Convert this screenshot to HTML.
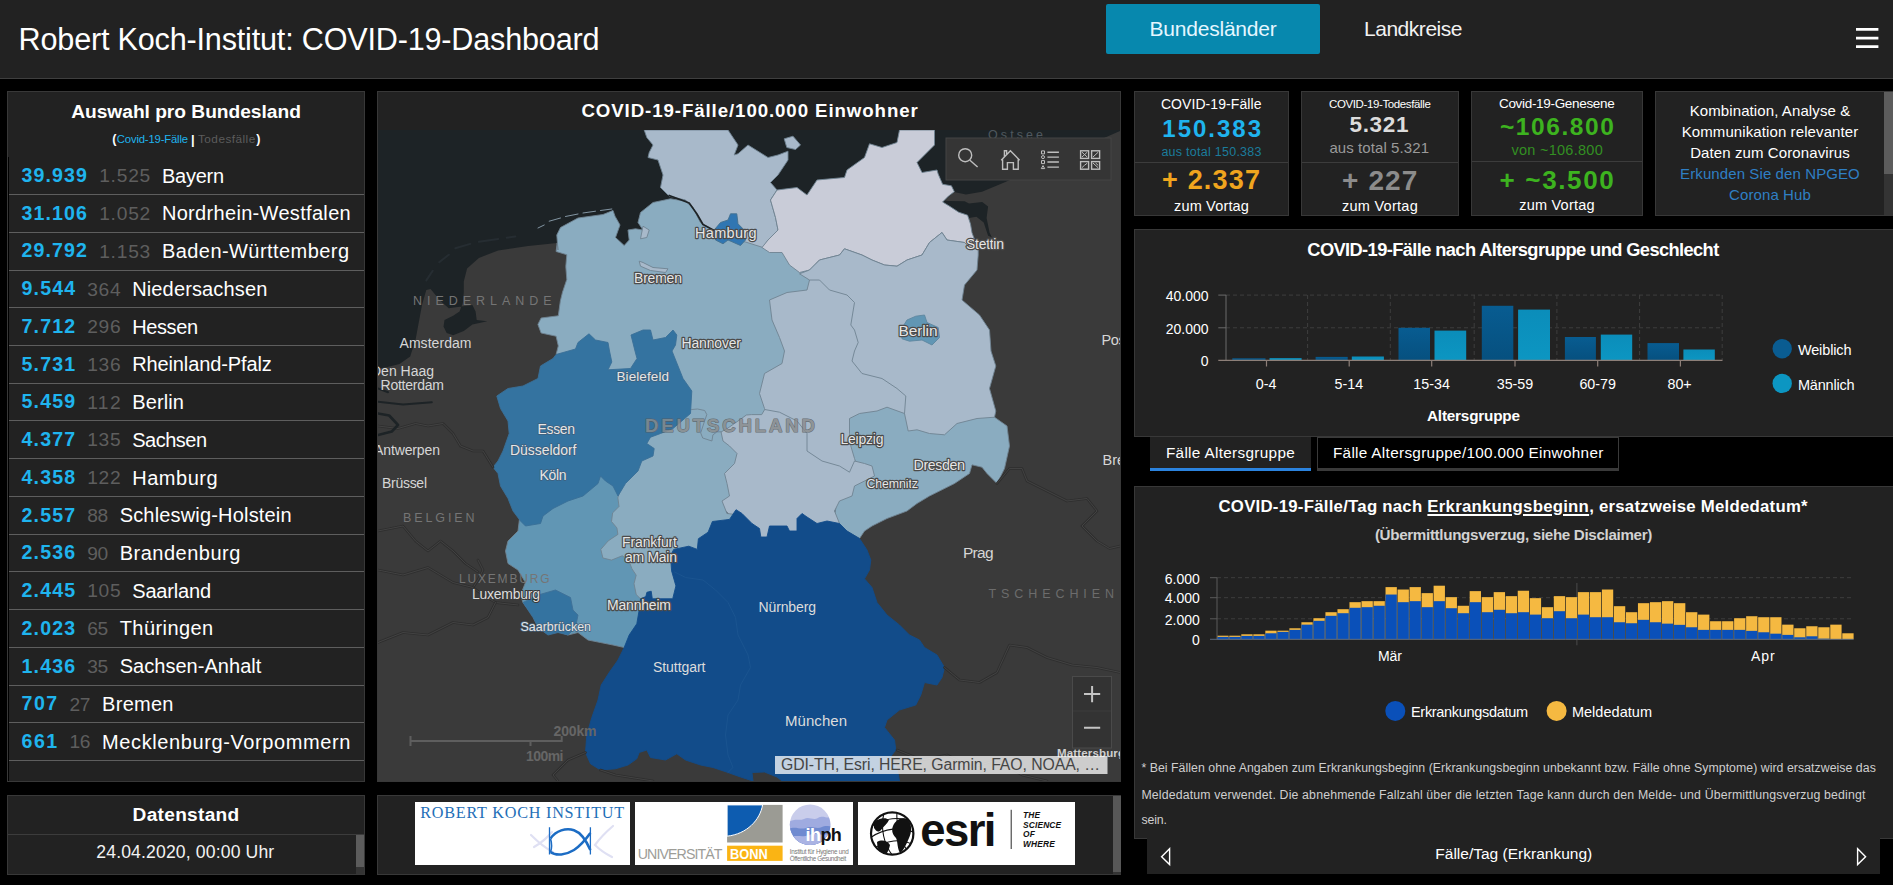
<!DOCTYPE html><html lang="de"><head><meta charset="utf-8"><title>Robert Koch-Institut: COVID-19-Dashboard</title><style>
*{box-sizing:border-box;margin:0;padding:0}
html,body{width:1893px;height:885px;overflow:hidden;background:#000}
body{font-family:"Liberation Sans",sans-serif;color:#fff;position:relative}
.t{position:absolute;white-space:nowrap}
.tc{transform:translateX(-50%)}
.p{position:absolute;background:#222;border:1px solid #383838}
.abs{position:absolute}
#hdr{position:absolute;left:0;top:0;width:1893px;height:79px;background:#222;border-bottom:1px solid #3f3f3f}
.row{position:absolute;left:8px;width:356px;height:37.7px;border-bottom:1px solid #4a4a4a;white-space:nowrap;font-size:20px;line-height:20px}
.row span{position:absolute;top:9.4px}
.row .a{color:#1fb4ee;font-weight:700}
.row .b{color:#6f6f6f}
.row .c{color:#fff}
svg{position:absolute;overflow:visible}
</style></head><body>
<div id="hdr"></div>
<div class="t" style="left:18.60px;top:24.30px;font-size:30.60px;line-height:30.60px;font-weight:400;color:#fff;letter-spacing:-0.191px;">Robert Koch-Institut: COVID-19-Dashboard</div>
<div class="abs" style="left:1106px;top:4px;width:214px;height:50px;background:#0788ae;border-radius:2px"></div>
<div class="t" style="left:1149.60px;top:17.92px;font-size:21.00px;line-height:21.00px;font-weight:400;color:#e4f6ff;letter-spacing:-0.227px;">Bundesländer</div>
<div class="t" style="left:1364.00px;top:17.92px;font-size:21.00px;line-height:21.00px;font-weight:400;color:#f2f2f2;letter-spacing:-0.471px;">Landkreise</div>
<svg style="left:1850px;top:20px;width:36px;height:36px" viewBox="1850 20 36 36"><path d="M1856 29.35H1878.4M1856 38.05H1878.4M1856 46.7H1878.4" stroke="#fff" stroke-width="2.7" fill="none"/></svg>
<div class="p" style="left:7px;top:91px;width:358px;height:691px"></div>
<div class="t" style="left:71.20px;top:101.55px;font-size:19.20px;line-height:19.20px;font-weight:700;color:#fff;letter-spacing:-0.029px;">Auswahl pro Bundesland</div>
<div class="t" style="left:112.20px;top:133.22px;font-size:12.50px;line-height:12.50px;font-weight:700;color:#fff;letter-spacing:-0.363px;">(</div>
<div class="t" style="left:116.80px;top:134.23px;font-size:11.30px;line-height:11.30px;font-weight:400;color:#1fb4ee;letter-spacing:-0.168px;">Covid-19-Fälle</div>
<div class="t" style="left:190.90px;top:133.20px;font-size:13.00px;line-height:13.00px;font-weight:700;color:#fff;letter-spacing:-0.737px;">|</div>
<div class="t" style="left:198.00px;top:133.81px;font-size:11.80px;line-height:11.80px;font-weight:400;color:#5c5c5c;letter-spacing:0.452px;">Todesfälle</div>
<div class="t" style="left:256.30px;top:133.22px;font-size:12.50px;line-height:12.50px;font-weight:700;color:#fff;letter-spacing:-0.363px;">)</div>
<div class="abs" style="left:8px;top:157px;width:1px;height:624px;background:#000"></div>
<div class="abs" style="left:9px;top:194px;width:355px;height:1px;background:#5e5e5e"></div>
<div class="t" style="left:21.60px;top:166.01px;font-size:19.60px;line-height:19.60px;font-weight:700;color:#1fb4ee;letter-spacing:1.077px;">39.939</div>
<div class="t" style="left:99.13px;top:166.35px;font-size:19.20px;line-height:19.20px;font-weight:400;color:#5e5e5e;letter-spacing:0.780px;">1.525</div>
<div class="t" style="left:161.90px;top:165.67px;font-size:20.00px;line-height:20.00px;font-weight:400;color:#fff;letter-spacing:-0.214px;">Bayern</div>
<div class="abs" style="left:9px;top:232px;width:355px;height:1px;background:#5e5e5e"></div>
<div class="t" style="left:21.60px;top:203.74px;font-size:19.60px;line-height:19.60px;font-weight:700;color:#1fb4ee;letter-spacing:1.077px;">31.106</div>
<div class="t" style="left:99.13px;top:204.08px;font-size:19.20px;line-height:19.20px;font-weight:400;color:#5e5e5e;letter-spacing:0.780px;">1.052</div>
<div class="t" style="left:161.90px;top:203.40px;font-size:20.00px;line-height:20.00px;font-weight:400;color:#fff;letter-spacing:0.320px;">Nordrhein-Westfalen</div>
<div class="abs" style="left:9px;top:270px;width:355px;height:1px;background:#5e5e5e"></div>
<div class="t" style="left:21.60px;top:241.47px;font-size:19.60px;line-height:19.60px;font-weight:700;color:#1fb4ee;letter-spacing:1.077px;">29.792</div>
<div class="t" style="left:99.13px;top:241.81px;font-size:19.20px;line-height:19.20px;font-weight:400;color:#5e5e5e;letter-spacing:0.780px;">1.153</div>
<div class="t" style="left:161.90px;top:241.13px;font-size:20.00px;line-height:20.00px;font-weight:400;color:#fff;letter-spacing:0.445px;">Baden-Württemberg</div>
<div class="abs" style="left:9px;top:307px;width:355px;height:1px;background:#5e5e5e"></div>
<div class="t" style="left:21.60px;top:279.20px;font-size:19.60px;line-height:19.60px;font-weight:700;color:#1fb4ee;letter-spacing:1.101px;">9.544</div>
<div class="t" style="left:87.25px;top:279.54px;font-size:19.20px;line-height:19.20px;font-weight:400;color:#5e5e5e;letter-spacing:0.657px;">364</div>
<div class="t" style="left:132.20px;top:278.86px;font-size:20.00px;line-height:20.00px;font-weight:400;color:#fff;letter-spacing:0.141px;">Niedersachsen</div>
<div class="abs" style="left:9px;top:345px;width:355px;height:1px;background:#5e5e5e"></div>
<div class="t" style="left:21.60px;top:316.93px;font-size:19.60px;line-height:19.60px;font-weight:700;color:#1fb4ee;letter-spacing:1.101px;">7.712</div>
<div class="t" style="left:87.25px;top:317.27px;font-size:19.20px;line-height:19.20px;font-weight:400;color:#5e5e5e;letter-spacing:0.657px;">296</div>
<div class="t" style="left:132.20px;top:316.59px;font-size:20.00px;line-height:20.00px;font-weight:400;color:#fff;letter-spacing:-0.383px;">Hessen</div>
<div class="abs" style="left:9px;top:383px;width:355px;height:1px;background:#5e5e5e"></div>
<div class="t" style="left:21.60px;top:354.66px;font-size:19.60px;line-height:19.60px;font-weight:700;color:#1fb4ee;letter-spacing:1.101px;">5.731</div>
<div class="t" style="left:87.25px;top:355.00px;font-size:19.20px;line-height:19.20px;font-weight:400;color:#5e5e5e;letter-spacing:0.657px;">136</div>
<div class="t" style="left:132.20px;top:354.32px;font-size:20.00px;line-height:20.00px;font-weight:400;color:#fff;letter-spacing:-0.114px;">Rheinland-Pfalz</div>
<div class="abs" style="left:9px;top:420px;width:355px;height:1px;background:#5e5e5e"></div>
<div class="t" style="left:21.60px;top:392.39px;font-size:19.60px;line-height:19.60px;font-weight:700;color:#1fb4ee;letter-spacing:1.101px;">5.459</div>
<div class="t" style="left:87.25px;top:392.73px;font-size:19.20px;line-height:19.20px;font-weight:400;color:#5e5e5e;letter-spacing:1.369px;">112</div>
<div class="t" style="left:132.20px;top:392.05px;font-size:20.00px;line-height:20.00px;font-weight:400;color:#fff;letter-spacing:0.113px;">Berlin</div>
<div class="abs" style="left:9px;top:458px;width:355px;height:1px;background:#5e5e5e"></div>
<div class="t" style="left:21.60px;top:430.12px;font-size:19.60px;line-height:19.60px;font-weight:700;color:#1fb4ee;letter-spacing:1.101px;">4.377</div>
<div class="t" style="left:87.25px;top:430.46px;font-size:19.20px;line-height:19.20px;font-weight:400;color:#5e5e5e;letter-spacing:0.657px;">135</div>
<div class="t" style="left:132.20px;top:429.78px;font-size:20.00px;line-height:20.00px;font-weight:400;color:#fff;letter-spacing:-0.489px;">Sachsen</div>
<div class="abs" style="left:9px;top:496px;width:355px;height:1px;background:#5e5e5e"></div>
<div class="t" style="left:21.60px;top:467.85px;font-size:19.60px;line-height:19.60px;font-weight:700;color:#1fb4ee;letter-spacing:1.101px;">4.358</div>
<div class="t" style="left:87.25px;top:468.19px;font-size:19.20px;line-height:19.20px;font-weight:400;color:#5e5e5e;letter-spacing:0.657px;">122</div>
<div class="t" style="left:132.20px;top:467.51px;font-size:20.00px;line-height:20.00px;font-weight:400;color:#fff;letter-spacing:0.541px;">Hamburg</div>
<div class="abs" style="left:9px;top:534px;width:355px;height:1px;background:#5e5e5e"></div>
<div class="t" style="left:21.60px;top:505.58px;font-size:19.60px;line-height:19.60px;font-weight:700;color:#1fb4ee;letter-spacing:1.101px;">2.557</div>
<div class="t" style="left:87.25px;top:505.92px;font-size:19.20px;line-height:19.20px;font-weight:400;color:#5e5e5e;letter-spacing:-0.509px;">88</div>
<div class="t" style="left:119.70px;top:505.24px;font-size:20.00px;line-height:20.00px;font-weight:400;color:#fff;letter-spacing:0.173px;">Schleswig-Holstein</div>
<div class="abs" style="left:9px;top:571px;width:355px;height:1px;background:#5e5e5e"></div>
<div class="t" style="left:21.60px;top:543.31px;font-size:19.60px;line-height:19.60px;font-weight:700;color:#1fb4ee;letter-spacing:1.101px;">2.536</div>
<div class="t" style="left:87.25px;top:543.65px;font-size:19.20px;line-height:19.20px;font-weight:400;color:#5e5e5e;letter-spacing:-0.509px;">90</div>
<div class="t" style="left:119.70px;top:542.97px;font-size:20.00px;line-height:20.00px;font-weight:400;color:#fff;letter-spacing:0.495px;">Brandenburg</div>
<div class="abs" style="left:9px;top:609px;width:355px;height:1px;background:#5e5e5e"></div>
<div class="t" style="left:21.60px;top:581.04px;font-size:19.60px;line-height:19.60px;font-weight:700;color:#1fb4ee;letter-spacing:1.101px;">2.445</div>
<div class="t" style="left:87.25px;top:581.38px;font-size:19.20px;line-height:19.20px;font-weight:400;color:#5e5e5e;letter-spacing:0.657px;">105</div>
<div class="t" style="left:132.20px;top:580.70px;font-size:20.00px;line-height:20.00px;font-weight:400;color:#fff;letter-spacing:-0.151px;">Saarland</div>
<div class="abs" style="left:9px;top:647px;width:355px;height:1px;background:#5e5e5e"></div>
<div class="t" style="left:21.60px;top:618.77px;font-size:19.60px;line-height:19.60px;font-weight:700;color:#1fb4ee;letter-spacing:1.101px;">2.023</div>
<div class="t" style="left:87.25px;top:619.11px;font-size:19.20px;line-height:19.20px;font-weight:400;color:#5e5e5e;letter-spacing:-0.509px;">65</div>
<div class="t" style="left:119.70px;top:618.43px;font-size:20.00px;line-height:20.00px;font-weight:400;color:#fff;letter-spacing:0.430px;">Thüringen</div>
<div class="abs" style="left:9px;top:685px;width:355px;height:1px;background:#5e5e5e"></div>
<div class="t" style="left:21.60px;top:656.50px;font-size:19.60px;line-height:19.60px;font-weight:700;color:#1fb4ee;letter-spacing:1.101px;">1.436</div>
<div class="t" style="left:87.25px;top:656.84px;font-size:19.20px;line-height:19.20px;font-weight:400;color:#5e5e5e;letter-spacing:-0.509px;">35</div>
<div class="t" style="left:119.70px;top:656.16px;font-size:20.00px;line-height:20.00px;font-weight:400;color:#fff;letter-spacing:0.038px;">Sachsen-Anhalt</div>
<div class="abs" style="left:9px;top:722px;width:355px;height:1px;background:#5e5e5e"></div>
<div class="t" style="left:21.60px;top:694.23px;font-size:19.60px;line-height:19.60px;font-weight:700;color:#1fb4ee;letter-spacing:1.468px;">707</div>
<div class="t" style="left:69.44px;top:694.57px;font-size:19.20px;line-height:19.20px;font-weight:400;color:#5e5e5e;letter-spacing:-0.295px;">27</div>
<div class="t" style="left:102.10px;top:693.89px;font-size:20.00px;line-height:20.00px;font-weight:400;color:#fff;letter-spacing:0.274px;">Bremen</div>
<div class="abs" style="left:9px;top:760px;width:355px;height:1px;background:#5e5e5e"></div>
<div class="t" style="left:21.60px;top:731.96px;font-size:19.60px;line-height:19.60px;font-weight:700;color:#1fb4ee;letter-spacing:1.468px;">661</div>
<div class="t" style="left:69.44px;top:732.30px;font-size:19.20px;line-height:19.20px;font-weight:400;color:#5e5e5e;letter-spacing:-0.295px;">16</div>
<div class="t" style="left:102.10px;top:731.62px;font-size:20.00px;line-height:20.00px;font-weight:400;color:#fff;letter-spacing:0.602px;">Mecklenburg-Vorpommern</div>
<div class="p" style="left:7px;top:795px;width:358px;height:80px"></div>
<div class="abs" style="left:8px;top:834px;width:356px;height:1px;background:#3c3c3c"></div>
<div class="abs" style="left:356px;top:835px;width:8px;height:39px;background:#343434"></div>
<div class="abs" style="left:356px;top:835px;width:8px;height:32px;background:#5c5c5c"></div>
<div class="t" style="left:132.60px;top:805.43px;font-size:19.10px;line-height:19.10px;font-weight:700;color:#fff;letter-spacing:0.288px;">Datenstand</div>
<div class="t" style="left:96.30px;top:843.90px;font-size:17.60px;line-height:17.60px;font-weight:400;color:#f2f2f2;letter-spacing:0.142px;">24.04.2020, 00:00 Uhr</div>
<div class="p" style="left:377px;top:91px;width:744px;height:691px"></div>
<div class="t" style="left:581.40px;top:102.07px;font-size:18.70px;line-height:18.70px;font-weight:700;color:#fff;letter-spacing:0.901px;">COVID-19-Fälle/100.000 Einwohner</div>
<svg style="left:378px;top:130px;width:742px;height:651px;overflow:hidden" viewBox="378 130 742 651">
<rect x="378" y="130" width="742" height="651" fill="#3a3a3a"/>
<polygon points="378.0,130.0 1120.0,130.0 1120.0,131.0 1104.0,138.0 1010.0,180.0 1003.0,183.0 982.0,191.7 966.0,194.6 954.0,192.0 945.0,200.0 940.0,232.0 700.0,232.0 650.0,252.0 605.0,252.0 590.0,232.0 560.0,252.0 557.2,242.9 528.2,246.1 498.2,250.4 478.9,257.9 467.1,268.6 463.8,281.5 463.8,292.2 462.8,303.0 459.5,311.5 453.1,315.8 444.5,320.1 443.5,326.6 446.7,333.0 453.1,335.2 463.8,330.9 472.4,324.4 487.4,321.2 476.7,320.1 475.6,311.5 472.4,305.1 448.8,308.3 440.2,300.8 430.6,289.0 426.3,290.1 422.0,305.1 418.8,322.3 415.6,339.4 410.2,356.6 399.5,364.1 386.6,367.3 378.0,368.4" fill="#1d2326"/>
<polygon points="940.0,200.0 948.5,201.0 964.6,201.2 969.0,203.4 982.2,202.0 988.1,206.4 986.6,218.1 989.6,232.8 991.8,237.2 988.1,235.7 983.7,222.5 976.4,216.7 969.0,218.0 958.7,216.0 945.0,212.0" fill="#1d2326"/>
<!--BORDERS-->
<polygon points="558.0,250.0 556.8,235.0 560.5,227.5 578.0,218.0 603.0,214.5 613.0,210.5 615.0,216.2 620.0,225.0 615.5,237.5 624.2,245.5 629.2,240.0 628.0,230.0 635.5,228.8 643.0,230.0 638.0,222.5 640.5,212.5 653.0,202.5 670.5,198.8 685.5,201.2 693.0,208.0 700.5,222.5 713.0,230.0 740.0,228.0 790.0,238.0 815.0,262.0 822.0,282.0 815.0,296.0 795.0,300.0 795.0,340.0 800.0,352.0 790.0,372.0 775.0,395.0 780.0,412.0 770.0,422.0 725.0,442.0 700.0,446.0 665.0,425.0 660.0,380.0 650.0,375.0 600.0,375.0 600.0,345.0 575.0,352.0 556.1,354.5 558.3,345.9 556.1,336.2 541.1,333.0 537.9,324.4 541.1,318.0 558.3,315.8 560.4,300.8 562.5,292.2 566.8,279.4 565.8,266.5 566.8,254.7 556.1,251.5 557.2,242.9" fill="#8aacc0" stroke="#6f8392" stroke-width="0.9" stroke-linejoin="round"/>
<polygon points="644.2,130.0 646.8,137.5 653.0,145.0 649.2,152.5 648.0,157.5 658.0,160.0 663.0,175.0 660.5,187.5 669.2,196.2 685.5,200.0 693.0,207.5 700.5,222.5 713.0,230.0 725.0,238.0 745.5,242.0 763.0,247.5 768.0,240.0 778.0,230.0 775.5,217.5 770.5,200.0 777.0,190.0 770.5,182.5 778.0,175.0 788.0,160.0 788.0,151.2 778.0,155.0 768.0,157.5 748.0,145.0 738.0,153.8 734.2,155.0 738.0,145.0 728.0,130.0" fill="#a8b9ca" stroke="#6f8392" stroke-width="0.9" stroke-linejoin="round"/>
<polygon points="784.2,138.8 793.0,136.2 800.5,145.0 795.5,149.5 786.8,147.5" fill="#a8b9ca" stroke="#6f8392" stroke-width="0.9" stroke-linejoin="round"/>
<polygon points="777.0,190.0 797.0,187.5 807.0,195.0 817.0,180.0 844.5,177.5 847.0,170.0 864.5,157.5 869.5,143.8 882.0,147.5 897.0,142.5 899.5,130.0 934.5,130.0 934.5,145.0 924.5,155.0 917.0,162.5 922.0,172.5 937.0,170.0 938.2,174.1 942.6,184.3 951.4,185.8 954.3,191.7 948.5,196.1 942.6,202.0 949.9,206.4 958.7,212.2 967.6,215.2 970.5,224.0 972.0,232.8 976.4,244.6 978.2,247.5 972.0,250.0 964.5,242.5 947.0,240.0 942.0,232.5 929.5,242.5 922.0,255.0 907.0,260.0 897.0,266.2 884.5,265.0 872.0,260.0 862.0,255.0 844.5,248.8 839.5,255.0 819.5,260.0 809.5,270.0 799.5,272.5 789.5,265.0 782.0,252.5 769.5,252.5 762.0,247.5 768.0,240.0 778.0,230.0 775.5,217.5 770.5,200.0" fill="#c9ccd8" stroke="#6f8392" stroke-width="0.9" stroke-linejoin="round"/>
<polygon points="809.5,270.0 819.5,260.0 839.5,255.0 844.5,248.8 862.0,255.0 872.0,260.0 884.5,265.0 897.0,266.2 907.0,260.0 922.0,255.0 929.5,242.5 942.0,232.5 947.0,240.0 964.5,242.5 972.0,250.0 978.2,247.5 978.2,255.0 977.0,270.0 964.5,285.0 962.0,300.0 979.5,315.0 989.5,330.0 991.0,351.0 995.8,366.0 989.5,388.5 995.8,411.0 994.5,417.2 960.0,440.0 900.0,440.0 880.0,400.0 850.0,360.0 840.0,300.0 815.0,290.0 809.5,280.0 799.5,273.8" fill="#a8b9ca" stroke="#6f8392" stroke-width="0.9" stroke-linejoin="round"/>
<polygon points="809.5,280.0 807.0,290.0 787.0,292.5 769.5,300.0 772.0,320.0 779.5,337.5 784.5,351.0 782.0,363.5 764.5,373.5 759.5,393.5 764.5,408.5 770.0,425.0 800.0,440.0 800.0,460.0 860.0,480.0 870.0,430.0 900.0,420.0 904.5,413.5 905.8,396.0 897.0,388.5 882.0,378.5 862.0,373.5 852.0,361.0 854.5,351.0 858.2,342.5 854.5,330.0 850.8,325.0 854.5,302.5 847.0,295.0 829.5,290.0 819.5,280.0" fill="#a8b9ca" stroke="#6f8392" stroke-width="0.9" stroke-linejoin="round"/>
<polygon points="849.5,418.5 859.5,413.5 877.0,411.0 887.0,407.2 904.5,413.5 908.2,431.0 917.0,429.8 929.5,433.5 944.5,434.8 957.0,423.5 977.0,418.5 994.5,417.2 1007.0,426.0 1009.5,446.0 1004.5,468.5 997.0,483.5 987.0,473.5 982.0,467.2 972.0,464.8 969.5,473.5 954.5,483.5 929.5,496.0 917.0,503.5 907.0,511.0 887.0,518.5 872.0,526.0 864.5,531.0 859.5,538.5 833.2,523.5 837.0,501.0 853.2,476.0 855.8,462.2 854.5,458.5 850.8,446.0 849.5,433.5" fill="#8aacc0" stroke="#6f8392" stroke-width="0.9" stroke-linejoin="round"/>
<polygon points="721.0,432.0 728.0,428.0 738.0,421.0 746.4,415.0 751.5,414.6 761.7,414.6 764.7,409.5 779.5,412.2 797.0,421.0 807.0,433.5 807.0,451.0 822.0,461.0 839.5,466.0 849.5,472.2 854.5,461.0 864.5,463.5 872.0,466.0 874.5,476.0 864.5,481.0 854.5,486.0 852.0,496.0 839.5,501.0 834.5,511.0 839.5,523.5 835.0,535.0 760.0,545.0 735.0,520.0 715.0,500.0 715.0,445.0" fill="#a8b9ca" stroke="#6f8392" stroke-width="0.9" stroke-linejoin="round"/>
<polygon points="685.0,408.0 691.5,409.5 697.6,409.0 704.7,410.5 706.8,414.6 704.7,420.7 700.7,432.9 702.7,438.0 711.9,441.0 712.9,434.9 716.9,431.9 721.0,431.8 723.0,441.0 729.5,446.0 737.0,453.5 734.5,463.5 724.5,473.5 727.0,483.5 729.5,496.0 722.0,501.0 727.0,513.5 740.0,515.0 700.0,560.0 685.0,605.0 630.0,605.0 590.0,560.0 600.0,500.0 630.0,450.0 660.0,420.0" fill="#8aacc0" stroke="#6f8392" stroke-width="0.9" stroke-linejoin="round"/>
<polygon points="520.0,515.0 518.0,531.0 508.0,541.0 505.5,551.0 508.0,563.5 518.0,570.0 525.5,582.5 520.5,595.0 523.0,602.5 540.0,625.0 568.0,635.0 578.0,632.5 588.0,640.0 600.5,642.5 613.0,645.0 624.2,647.5 650.0,640.0 650.0,600.0 640.5,598.8 636.2,594.5 634.0,583.7 636.2,575.2 631.9,568.7 628.7,560.1 622.2,555.8 611.5,560.1 602.9,558.0 600.8,549.4 608.3,540.8 617.9,534.4 616.9,527.9 611.5,521.5 612.6,512.9 619.0,506.5 617.9,497.9 620.1,489.3 610.0,470.0 560.0,480.0" fill="#6196b4" stroke="#6f8392" stroke-width="0.9" stroke-linejoin="round"/>
<polygon points="556.1,354.5 575.5,349.0 578.0,342.5 589.0,333.8 595.5,340.0 608.0,342.5 609.5,351.0 611.8,362.0 608.0,369.8 630.5,368.5 637.0,358.5 635.0,351.0 631.0,335.0 643.0,330.0 650.5,330.0 653.0,340.0 665.5,337.5 673.0,330.0 676.8,335.0 675.5,345.0 672.0,351.0 678.0,366.0 683.0,378.5 691.8,391.0 690.5,413.5 673.0,428.5 660.5,433.5 650.5,437.2 646.8,443.5 654.2,448.5 653.0,456.0 641.8,461.0 638.0,471.0 625.5,483.5 618.0,496.0 613.0,486.0 605.5,481.0 600.5,476.0 598.0,483.5 583.0,496.0 568.0,501.0 553.0,508.5 543.0,516.0 540.5,523.5 525.5,526.0 520.5,521.0 513.0,511.0 508.0,498.5 500.5,486.0 498.0,473.5 493.0,467.2 498.0,461.0 503.0,451.0 509.2,433.5 508.0,421.0 500.5,408.5 496.8,396.0 508.0,388.5 523.0,386.0 538.0,378.5 540.5,366.0 553.0,358.5" fill="#3473a0" stroke="#3a6f97" stroke-width="0.9" stroke-linejoin="round"/>
<polygon points="523.0,602.5 538.0,595.0 555.5,590.0 570.5,597.5 573.0,610.0 578.0,615.0 575.5,627.5 568.0,635.0 558.0,632.5 548.0,635.0 538.0,627.5 533.0,617.5 528.0,610.0" fill="#3473a0" stroke="#3f7197" stroke-width="0.9" stroke-linejoin="round"/>
<polygon points="640.5,598.8 645.8,596.6 646.9,592.3 651.2,591.2 652.3,598.8 672.7,598.8 675.9,585.9 671.6,570.9 670.5,555.8 673.7,549.4 688.8,546.2 697.3,549.4 698.4,538.7 708.1,532.2 712.4,521.5 729.5,519.4 736.0,509.7 742.0,513.5 752.0,523.5 759.5,528.5 760.8,537.0 767.0,537.0 769.5,526.0 787.0,526.0 789.5,531.0 797.0,531.0 797.0,518.5 802.0,513.5 807.0,517.0 817.0,523.5 827.0,521.0 839.5,523.5 847.0,531.0 859.5,538.5 867.0,550.0 870.8,560.0 869.5,570.0 864.5,578.8 872.0,587.5 877.0,602.5 887.0,615.0 899.5,625.0 909.5,635.0 919.5,640.0 924.5,647.5 937.0,655.0 944.5,667.5 942.0,677.5 937.0,685.0 924.5,682.5 920.8,695.0 915.8,705.0 899.5,710.0 887.0,720.0 884.5,727.5 894.5,740.0 895.8,750.0 890.0,757.5 897.0,767.5 899.5,781.0 782.0,781.0 777.0,777.0 764.5,772.0 752.0,772.5 753.0,781.0 740.5,777.0 728.0,772.5 713.0,767.5 700.5,765.0 685.5,760.0 676.8,753.8 665.5,760.0 650.5,757.5 646.8,750.0 639.2,752.5 636.8,758.8 628.0,765.0 615.5,768.8 600.5,770.0 590.5,763.8 585.5,752.5 586.8,735.0 591.8,717.5 598.0,700.0 601.2,685.0 609.2,672.5 618.0,660.0 624.2,647.5 629.2,635.0 636.8,623.8 639.2,610.0" fill="#124c8a" stroke="#124c8a" stroke-width="0.9" stroke-linejoin="round"/>
<polygon points="900.8,330.0 907.0,320.0 915.8,316.2 924.5,315.0 927.0,322.5 938.2,327.5 939.5,337.5 932.0,345.0 922.0,340.0 909.5,341.2 902.0,338.8" fill="#6196b4" stroke="#5f879f" stroke-width="0.9" stroke-linejoin="round"/>
<polygon points="714.2,230.0 720.5,222.5 728.0,220.0 730.5,213.8 736.8,213.8 738.0,223.8 744.2,230.0 745.5,240.0 740.5,245.5 728.0,240.0 723.0,243.8 715.5,240.0" fill="#3076b2" stroke="#44708f" stroke-width="0.9" stroke-linejoin="round"/>
<polygon points="639.2,261.2 643.0,262.5 653.0,267.5 668.0,268.8 665.5,272.5 650.5,270.5 640.5,266.2" fill="#a8b9ca" stroke="#6f8392" stroke-width="0.9" stroke-linejoin="round"/>
<polygon points="643.0,226.2 649.2,230.0 646.8,237.5 640.5,238.8" fill="#a8b9ca" stroke="#6f8392" stroke-width="0.9" stroke-linejoin="round"/>
<polyline points="669.2,195.5 678.0,198.8 689.2,203.0 696.8,213.8 703.0,224.5 714.2,230.5" fill="none" stroke="#1d2326" stroke-width="1.7" stroke-linejoin="round" stroke-linecap="round" />
<polyline points="538.0,228.0 544.2,225.0" fill="none" stroke="#8da2b0" stroke-width="0.9" stroke-linejoin="round" stroke-linecap="round" />
<polyline points="549.2,221.2 560.5,218.0" fill="none" stroke="#8da2b0" stroke-width="0.9" stroke-linejoin="round" stroke-linecap="round" />
<polyline points="565.5,216.5 578.0,214.0" fill="none" stroke="#8da2b0" stroke-width="0.9" stroke-linejoin="round" stroke-linecap="round" />
<polyline points="583.0,213.0 595.5,211.2" fill="none" stroke="#8da2b0" stroke-width="0.9" stroke-linejoin="round" stroke-linecap="round" />
<polyline points="600.5,210.5 611.8,209.0" fill="none" stroke="#8da2b0" stroke-width="0.9" stroke-linejoin="round" stroke-linecap="round" />
<polyline points="426.3,280.4 432.7,270.8" fill="none" stroke="#262d32" stroke-width="2" stroke-linejoin="round" stroke-linecap="round" />
<polyline points="439.2,262.2 448.8,254.7" fill="none" stroke="#262d32" stroke-width="2" stroke-linejoin="round" stroke-linecap="round" />
<polyline points="455.3,248.2 470.3,243.9" fill="none" stroke="#262d32" stroke-width="2" stroke-linejoin="round" stroke-linecap="round" />
<polyline points="478.9,241.8 498.2,239.0" fill="none" stroke="#262d32" stroke-width="2" stroke-linejoin="round" stroke-linecap="round" />
<polyline points="506.8,237.7 515.3,236.4" fill="none" stroke="#262d32" stroke-width="2" stroke-linejoin="round" stroke-linecap="round" />
<polyline points="674.5,572.0 685.5,577.5 703.0,580.0 715.5,590.0 728.0,602.5 735.5,617.5 738.0,635.0 748.0,655.0 750.5,667.5 740.5,685.0 738.0,700.0 728.0,715.0 725.5,735.0 728.0,755.0 733.0,767.5 728.0,772.5" fill="none" stroke="#1a5490" stroke-width="1" stroke-linejoin="round" stroke-linecap="round" />
<polyline points="378.0,426.0 398.0,428.5 415.5,423.5 428.0,426.0 443.0,423.5 453.0,433.5 460.5,446.0 473.0,451.0 483.0,451.0 493.0,467.2" fill="none" stroke="#2e2e2e" stroke-width="2.6" stroke-linejoin="round" stroke-linecap="round" />
<polyline points="378.0,426.0 398.0,428.5 415.5,423.5 428.0,426.0 443.0,423.5 453.0,433.5 460.5,446.0 473.0,451.0 483.0,451.0 493.0,467.2" fill="none" stroke="#474747" stroke-width="0.8" stroke-linejoin="round" stroke-linecap="round" />
<polyline points="378.0,531.0 403.0,526.0 415.5,541.0 428.0,551.0 440.5,541.0 453.0,551.0 465.5,563.5 478.0,572.0" fill="none" stroke="#2e2e2e" stroke-width="2.6" stroke-linejoin="round" stroke-linecap="round" />
<polyline points="378.0,531.0 403.0,526.0 415.5,541.0 428.0,551.0 440.5,541.0 453.0,551.0 465.5,563.5 478.0,572.0" fill="none" stroke="#474747" stroke-width="0.8" stroke-linejoin="round" stroke-linecap="round" />
<polyline points="478.0,560.0 483.0,570.0 478.0,580.0 473.0,587.5 483.0,595.0 495.5,602.5 518.0,605.0" fill="none" stroke="#2e2e2e" stroke-width="2.6" stroke-linejoin="round" stroke-linecap="round" />
<polyline points="478.0,560.0 483.0,570.0 478.0,580.0 473.0,587.5 483.0,595.0 495.5,602.5 518.0,605.0" fill="none" stroke="#474747" stroke-width="0.8" stroke-linejoin="round" stroke-linecap="round" />
<polyline points="378.0,570.0 403.0,575.0 428.0,567.5 453.0,582.5 473.0,587.5" fill="none" stroke="#2e2e2e" stroke-width="2.6" stroke-linejoin="round" stroke-linecap="round" />
<polyline points="378.0,570.0 403.0,575.0 428.0,567.5 453.0,582.5 473.0,587.5" fill="none" stroke="#474747" stroke-width="0.8" stroke-linejoin="round" stroke-linecap="round" />
<polyline points="495.5,602.5 488.0,617.5 473.0,625.0 453.0,622.5 428.0,635.0 403.0,632.5 378.0,642.5" fill="none" stroke="#2e2e2e" stroke-width="2.6" stroke-linejoin="round" stroke-linecap="round" />
<polyline points="495.5,602.5 488.0,617.5 473.0,625.0 453.0,622.5 428.0,635.0 403.0,632.5 378.0,642.5" fill="none" stroke="#474747" stroke-width="0.8" stroke-linejoin="round" stroke-linecap="round" />
<polyline points="997.0,483.5 1009.5,468.5 1022.0,468.5 1027.0,481.0 1047.0,491.0 1067.0,501.0 1087.0,498.5 1097.0,511.0 1082.0,526.0 1097.0,541.0 1109.5,548.5 1120.2,546.0" fill="none" stroke="#2e2e2e" stroke-width="2.6" stroke-linejoin="round" stroke-linecap="round" />
<polyline points="997.0,483.5 1009.5,468.5 1022.0,468.5 1027.0,481.0 1047.0,491.0 1067.0,501.0 1087.0,498.5 1097.0,511.0 1082.0,526.0 1097.0,541.0 1109.5,548.5 1120.2,546.0" fill="none" stroke="#474747" stroke-width="0.8" stroke-linejoin="round" stroke-linecap="round" />
<polyline points="944.5,667.5 959.5,680.0 979.5,682.5 997.0,672.5 1009.5,645.0 1027.0,647.5 1047.0,657.5 1072.0,665.0 1097.0,667.5 1120.2,672.5" fill="none" stroke="#2e2e2e" stroke-width="2.6" stroke-linejoin="round" stroke-linecap="round" />
<polyline points="944.5,667.5 959.5,680.0 979.5,682.5 997.0,672.5 1009.5,645.0 1027.0,647.5 1047.0,657.5 1072.0,665.0 1097.0,667.5 1120.2,672.5" fill="none" stroke="#474747" stroke-width="0.8" stroke-linejoin="round" stroke-linecap="round" />
<polyline points="897.0,750.0 922.0,760.0 947.0,755.0 972.0,767.5 997.0,760.0 1022.0,775.0 1047.0,781.0" fill="none" stroke="#2e2e2e" stroke-width="2.6" stroke-linejoin="round" stroke-linecap="round" />
<polyline points="897.0,750.0 922.0,760.0 947.0,755.0 972.0,767.5 997.0,760.0 1022.0,775.0 1047.0,781.0" fill="none" stroke="#474747" stroke-width="0.8" stroke-linejoin="round" stroke-linecap="round" />
<polyline points="585.5,752.5 568.0,760.0 553.0,775.0 558.0,781.0" fill="none" stroke="#2e2e2e" stroke-width="2.6" stroke-linejoin="round" stroke-linecap="round" />
<polyline points="585.5,752.5 568.0,760.0 553.0,775.0 558.0,781.0" fill="none" stroke="#474747" stroke-width="0.8" stroke-linejoin="round" stroke-linecap="round" />
<polyline points="600.5,770.0 615.5,775.0 653.0,781.0" fill="none" stroke="#2e2e2e" stroke-width="2.6" stroke-linejoin="round" stroke-linecap="round" />
<polyline points="600.5,770.0 615.5,775.0 653.0,781.0" fill="none" stroke="#474747" stroke-width="0.8" stroke-linejoin="round" stroke-linecap="round" />
<polyline points="378.0,401.8 403.0,404.5 431.8,402.2" fill="none" stroke="#1d2326" stroke-width="2" stroke-linejoin="round" stroke-linecap="round" />
<polyline points="378.0,413.5 389.2,415.5 398.0,425.0 391.8,431.5 378.0,435.0" fill="none" stroke="#1d2326" stroke-width="2.6" stroke-linejoin="round" stroke-linecap="round" />
<polyline points="378.0,388.5 388.0,392.2" fill="none" stroke="#1d2326" stroke-width="2" stroke-linejoin="round" stroke-linecap="round" />
<path d="M410.5 736V746M410.5 741H561.7V736M530.5 741V746" fill="none" stroke="#5e5e5e" stroke-width="2"/>
<text x="695.0" y="237.7" font-size="14.5" font-weight="400" fill="#e6e6e6" stroke="#4b4b4b" stroke-width="2.4" stroke-linejoin="round" paint-order="stroke" textLength="61.5" lengthAdjust="spacing" opacity="1" >Hamburg</text>
<text x="634.0" y="282.5" font-size="14" font-weight="400" fill="#e6e6e6" stroke="#4b4b4b" stroke-width="2.4" stroke-linejoin="round" paint-order="stroke" textLength="48.0" lengthAdjust="spacing" opacity="1" >Bremen</text>
<text x="681.5" y="348.3" font-size="14" font-weight="400" fill="#e6e6e6" stroke="#4b4b4b" stroke-width="2.4" stroke-linejoin="round" paint-order="stroke" textLength="59.5" lengthAdjust="spacing" opacity="1" >Hannover</text>
<text x="898.5" y="335.6" font-size="15.5" font-weight="400" fill="#e6e6e6" stroke="#4b4b4b" stroke-width="2.4" stroke-linejoin="round" paint-order="stroke" textLength="39.0" lengthAdjust="spacing" opacity="1" >Berlin</text>
<text x="966.0" y="249.3" font-size="14" font-weight="400" fill="#e6e6e6" stroke="#4b4b4b" stroke-width="2.4" stroke-linejoin="round" paint-order="stroke" textLength="38.0" lengthAdjust="spacing" opacity="1" >Stettin</text>
<text x="616.5" y="380.9" font-size="13.5" font-weight="400" fill="#e6e6e6" stroke="#3f5f7c" stroke-width="1.5" stroke-linejoin="round" paint-order="stroke" textLength="52.5" lengthAdjust="spacing" opacity="1" >Bielefeld</text>
<text x="537.5" y="433.5" font-size="14" font-weight="400" fill="#e6e6e6" stroke="#3f5f7c" stroke-width="1.5" stroke-linejoin="round" paint-order="stroke" textLength="37.5" lengthAdjust="spacing" opacity="1" >Essen</text>
<text x="510.0" y="455.3" font-size="14" font-weight="400" fill="#e6e6e6" stroke="#3f5f7c" stroke-width="1.5" stroke-linejoin="round" paint-order="stroke" textLength="66.5" lengthAdjust="spacing" opacity="1" >Düsseldorf</text>
<text x="539.5" y="479.8" font-size="14" font-weight="400" fill="#e6e6e6" stroke="#3f5f7c" stroke-width="1.5" stroke-linejoin="round" paint-order="stroke" textLength="27.0" lengthAdjust="spacing" opacity="1" >Köln</text>
<text x="622.0" y="546.5" font-size="14" font-weight="400" fill="#e6e6e6" stroke="#4b4b4b" stroke-width="2.4" stroke-linejoin="round" paint-order="stroke" textLength="55.0" lengthAdjust="spacing" opacity="1" >Frankfurt</text>
<text x="625.0" y="562.3" font-size="14" font-weight="400" fill="#e6e6e6" stroke="#4b4b4b" stroke-width="2.4" stroke-linejoin="round" paint-order="stroke" textLength="52.0" lengthAdjust="spacing" opacity="1" >am Main</text>
<text x="840.5" y="443.5" font-size="14" font-weight="400" fill="#e6e6e6" stroke="#4b4b4b" stroke-width="2.4" stroke-linejoin="round" paint-order="stroke" textLength="43.0" lengthAdjust="spacing" opacity="1" >Leipzig</text>
<text x="913.5" y="470.0" font-size="14.5" font-weight="400" fill="#e6e6e6" stroke="#4b4b4b" stroke-width="2.4" stroke-linejoin="round" paint-order="stroke" textLength="51.5" lengthAdjust="spacing" opacity="1" >Dresden</text>
<text x="866.5" y="488.0" font-size="12.5" font-weight="400" fill="#e6e6e6" stroke="#4b4b4b" stroke-width="2.4" stroke-linejoin="round" paint-order="stroke" textLength="51.5" lengthAdjust="spacing" opacity="1" >Chemnitz</text>
<text x="607.0" y="609.5" font-size="14" font-weight="400" fill="#e6e6e6" stroke="#4b4b4b" stroke-width="2.4" stroke-linejoin="round" paint-order="stroke" textLength="64.0" lengthAdjust="spacing" opacity="1" >Mannheim</text>
<text x="520.5" y="630.8" font-size="12.5" font-weight="400" fill="#e6e6e6" stroke="#44617a" stroke-width="1.4" stroke-linejoin="round" paint-order="stroke" textLength="70.5" lengthAdjust="spacing" opacity="1" >Saarbrücken</text>
<text x="653.0" y="671.8" font-size="14" font-weight="400" fill="#dcdcdc" textLength="52.5" lengthAdjust="spacing" opacity="1" >Stuttgart</text>
<text x="758.5" y="612.0" font-size="14" font-weight="400" fill="#dcdcdc" textLength="57.5" lengthAdjust="spacing" opacity="1" >Nürnberg</text>
<text x="785.0" y="726.2" font-size="15" font-weight="400" fill="#dcdcdc" textLength="62.0" lengthAdjust="spacing" opacity="1" >München</text>
<text x="399.5" y="348.3" font-size="14" font-weight="400" fill="#d6d6d6" textLength="72.0" lengthAdjust="spacing" opacity="1" >Amsterdam</text>
<text x="371.0" y="375.5" font-size="14" font-weight="400" fill="#d6d6d6" textLength="63.0" lengthAdjust="spacing" opacity="1" >Den Haag</text>
<text x="380.5" y="390.3" font-size="14" font-weight="400" fill="#d6d6d6" textLength="63.5" lengthAdjust="spacing" opacity="1" >Rotterdam</text>
<text x="374.0" y="454.8" font-size="14" font-weight="400" fill="#d6d6d6" textLength="66.0" lengthAdjust="spacing" opacity="1" >Antwerpen</text>
<text x="382.0" y="488.0" font-size="14" font-weight="400" fill="#d6d6d6" textLength="45.0" lengthAdjust="spacing" opacity="1" >Brüssel</text>
<text x="472.0" y="598.8" font-size="14" font-weight="400" fill="#dcdcdc" stroke="#3a3a3a" stroke-width="2" stroke-linejoin="round" paint-order="stroke" textLength="68.0" lengthAdjust="spacing" opacity="1" >Luxemburg</text>
<text x="963.0" y="557.9" font-size="15.5" font-weight="400" fill="#d6d6d6" textLength="30.5" lengthAdjust="spacing" opacity="1" >Prag</text>
<text x="1101.5" y="344.7" font-size="14.5" font-weight="400" fill="#d6d6d6" textLength="39.5" lengthAdjust="spacing" opacity="1" >Posen</text>
<text x="1102.5" y="464.5" font-size="14.5" font-weight="400" fill="#d6d6d6" textLength="49.5" lengthAdjust="spacing" opacity="1" >Breslau</text>
<text x="1057.0" y="757.1" font-size="11.5" font-weight="700" fill="#cfcfcf" textLength="68.0" lengthAdjust="spacing" opacity="1" >Mattersburg</text>
<text x="413.0" y="304.5" font-size="12.5" font-weight="400" fill="#757575" textLength="138.5" lengthAdjust="spacing" opacity="1" >NIEDERLANDE</text>
<text x="403.0" y="521.8" font-size="12.5" font-weight="400" fill="#757575" textLength="71.5" lengthAdjust="spacing" opacity="1" >BELGIEN</text>
<text x="459.0" y="582.6" font-size="12" font-weight="400" fill="#757575" textLength="90.5" lengthAdjust="spacing" opacity="1" >LUXEMBURG</text>
<text x="988.5" y="597.5" font-size="12.5" font-weight="400" fill="#6c6c6c" textLength="125.5" lengthAdjust="spacing" opacity="1" >TSCHECHIEN</text>
<text x="988.0" y="139.0" font-size="12.5" font-weight="400" fill="#4f585e" textLength="55.0" lengthAdjust="spacing" opacity="1" >Ostsee</text>
<text x="645.0" y="431.7" font-size="18.6" font-weight="700" fill="#8a8c8c" stroke="#565b60" stroke-width="1.1" stroke-linejoin="round" paint-order="stroke" textLength="170.0" lengthAdjust="spacing" opacity="0.8" >DEUTSCHLAND</text>
<text x="553.5" y="735.7" font-size="14" font-weight="700" fill="#666" textLength="43.0" lengthAdjust="spacing" opacity="1" >200km</text>
<text x="526.0" y="761.0" font-size="14" font-weight="700" fill="#666" textLength="37.5" lengthAdjust="spacing" opacity="1" >100mi</text>
<rect x="775" y="756" width="332.5" height="18" fill="#fff" fill-opacity="0.75"/>
<text x="781.0" y="770.0" font-size="15.8" font-weight="400" fill="#454545" textLength="319.0" lengthAdjust="spacing" opacity="1" >GDI-TH, Esri, HERE, Garmin, FAO, NOAA, …</text>
<rect x="946" y="138" width="165" height="42" fill="#353535" stroke="#444" stroke-width="1"/>
<g stroke="#bebebe" fill="none" stroke-width="1.4" stroke-linejoin="miter"><circle cx="965.2" cy="155.2" r="6.5"/><path d="M969.9 160.2L977.6 167.1"/></g>
<g stroke="#bebebe" fill="none" stroke-width="1.4" stroke-linejoin="miter"><path d="M1001.2 160.2L1010.4 150.8L1019.6 160.2M1002.6 159.4V169.2H1007.4V162.6H1013.4V169.2H1018.2V159.4M1004.4 156.6V150.8H1006.6V154.4"/></g>
<g stroke="#bebebe" fill="none" stroke-width="1.4" stroke-linejoin="miter"><path d="M1047.4 152.3H1058.9M1047.4 157.1H1058.9M1047.4 162H1058.9M1047.4 167.1H1058.9"/><path d="M1041.5 150.9h3v3h-3zM1041.5 160.6h3v3h-3z" stroke-width="1"/><circle cx="1043" cy="157.1" r="1.5" stroke-width="1"/><path d="M1041.3 168.6L1043 165.6L1044.7 168.6Z" stroke-width="1"/></g>
<g stroke="#bebebe" fill="none" stroke-width="1.4" stroke-linejoin="miter" stroke-width="1.3"><rect x="1080.6" y="150.8" width="8" height="7.6"/><rect x="1091.6" y="150.8" width="8" height="7.6"/><rect x="1080.6" y="161.6" width="8" height="7.6"/><rect x="1091.6" y="161.6" width="8" height="7.6"/><path d="M1082 152.2L1087.2 157M1087.2 152.2L1082 157M1093 157L1098.2 152.2M1082 167.6L1084.4 165.4L1087.2 163.2M1093 163L1098.2 167.8M1095.6 163L1098.2 165.4" stroke-width="1"/></g>
<rect x="1072.5" y="676.5" width="39" height="71.5" fill="#333" stroke="#4a4a4a" stroke-width="1"/>
<path d="M1084 694.1H1100.2M1092.1 686V702.2M1084 727.8H1100.2" stroke="#c4c4c4" stroke-width="2" fill="none"/>
<path d="M1073 711H1111" stroke="#3c3c3c" stroke-width="1"/>
</svg>
<div class="p" style="left:377px;top:795px;width:744px;height:80px"></div>
<div class="abs" style="left:1112.5px;top:796px;width:8px;height:78px;background:#343434"></div>
<div class="abs" style="left:1112.5px;top:796px;width:8px;height:76px;background:#575757"></div>
<div class="abs" style="left:415px;top:802px;width:215px;height:62.7px;background:#fff"></div>
<div class="t" style="left:420.2px;top:805.23px;font-family:'Liberation Serif',serif;font-size:16.2px;line-height:16.2px;color:#1f6fb8;letter-spacing:0.77px">ROBERT KOCH INSTITUT</div>
<svg style="left:415px;top:802px;width:215px;height:63px" viewBox="415 802 215 63">
<g fill="none" stroke="#dfe0f3" stroke-width="2.2" stroke-linecap="round"><path d="M531 835C538 842 545 848 553 852M534 847C541 843 547 838 552 832"/><path d="M613 826C606 832 600 838 595 845C600 850 606 854 612 857"/></g>
<g fill="none" stroke="#1c6cc4"><path d="M549.5 827.3V854.6M590.4 827.3V854.6" stroke-width="1.3"/>
<path d="M550.5 838.5C556 830.5 566 827.6 574 830.2C581 832.6 586 840 590.4 850" stroke-width="2.6"/>
<path d="M550.5 852C556 856.2 566 855 574 850C581 845.5 586 839 590.4 833" stroke-width="2.6"/>
<path d="M550.5 838.5C552 844 552 848 550.5 852" stroke-width="1.6"/></g></svg>
<div class="abs" style="left:635px;top:802px;width:218px;height:62.7px;background:#fff"></div>
<svg style="left:635px;top:802px;width:218px;height:63px" viewBox="635 802 218 63">
<defs><clipPath id="cc"><circle cx="810.1" cy="824.8" r="20.3"/></clipPath></defs>
<rect x="727.1" y="804.9" width="55.5" height="37.6" fill="#9b9b94"/>
<path d="M727.1 804.9H762.6C760 820 747 834 727.1 836.2Z" fill="#0d5cb0" stroke="#fff" stroke-width="1"/>
<rect x="727.1" y="845.7" width="55.5" height="15.2" fill="#fab414"/>
<g clip-path="url(#cc)"><rect x="789" y="804" width="42" height="42" fill="#c9cdeb"/>
<path d="M789 822C795 818 799 821 804 819C809 816 813 821 818 818C823 815 827 819 831 817V846H789Z" fill="#9fabe0"/>
<path d="M789 829C795 826 800 830 806 828C812 825 816 830 822 827C826 825 829 827 831 826V846H789Z" fill="#6f8ad0"/>
<path d="M789 838C796 834 802 838 809 835C815 832 822 837 831 833V846H789Z" fill="#aab3e3"/></g>
</svg>
<div class="t" style="left:637.70px;top:846.78px;font-size:14.20px;line-height:14.20px;font-weight:400;color:#9d9d98;letter-spacing:-0.899px;">UNIVERSITÄT</div>
<div class="t" style="left:729.6px;top:846.30px;font-size:15px;line-height:15px;font-weight:700;color:#fff;transform:scaleX(0.855);transform-origin:0 0">BONN</div>
<div class="t" style="left:805.6px;top:826px;font-size:18px;line-height:18px;font-weight:700;letter-spacing:-0.6px;color:#fff">ih<span style="color:#111">ph</span></div>
<div class="t" style="left:789.80px;top:848.67px;font-size:6.30px;line-height:6.30px;font-weight:400;color:#777;letter-spacing:-0.252px;">Institut für Hygiene und</div>
<div class="t" style="left:789.80px;top:856.37px;font-size:6.30px;line-height:6.30px;font-weight:400;color:#777;letter-spacing:-0.361px;">Öffentliche Gesundheit</div>
<div class="abs" style="left:857.7px;top:801.7px;width:217.4px;height:63.1px;background:#fff"></div>
<svg style="left:857px;top:801px;width:219px;height:64px" viewBox="857 801 219 64">
<defs><clipPath id="cg"><circle cx="892.2" cy="833.5" r="21"/></clipPath></defs>
<circle cx="892.2" cy="833.5" r="21.2" fill="#fff" stroke="#111" stroke-width="2.2"/>
<g clip-path="url(#cg)"><g fill="none" stroke="#111" stroke-width="1.1">
<path d="M872 826C884 818 900 816 914 822M870 838C884 828 902 826 915 833M873 849C886 840 902 838 913 845"/>
<path d="M884 813C880 828 884 845 893 856M897 812C896 826 900 842 908 851"/></g>
<path d="M874 822C879 818 886 817 889 820C887 824 884 826 881 830C878 833 876 831 874 828Z" fill="#111"/>
<path d="M893 826C896 819 903 816 908 820C912 824 912 832 909 838C906 845 904 850 900 853C897 848 898 842 896 838C893 835 891 831 893 826Z" fill="#111"/>
<path d="M877 842C882 839 888 841 890 845C889 850 887 854 884 857C880 853 877 848 877 842Z" fill="#111"/></g>
<path d="M1011.2 809.8V849" stroke="#111" stroke-width="0.9"/>
</svg>
<div class="t" style="left:920.30px;top:808.28px;font-size:45.50px;line-height:45.50px;font-weight:700;color:#111;letter-spacing:-1.619px;">esri</div>
<div class="t" style="left:1023px;top:810.79px;font-size:8.4px;line-height:8.4px;font-weight:700;font-style:italic;color:#111;letter-spacing:0.15px">THE</div>
<div class="t" style="left:1023px;top:820.69px;font-size:8.4px;line-height:8.4px;font-weight:700;font-style:italic;color:#111;letter-spacing:0.15px">SCIENCE</div>
<div class="t" style="left:1023px;top:830.49px;font-size:8.4px;line-height:8.4px;font-weight:700;font-style:italic;color:#111;letter-spacing:0.15px">OF</div>
<div class="t" style="left:1023px;top:839.99px;font-size:8.4px;line-height:8.4px;font-weight:700;font-style:italic;color:#111;letter-spacing:0.15px">WHERE</div>
<div class="p" style="left:1134px;top:91px;width:155px;height:125px"></div>
<div class="abs" style="left:1135px;top:162px;width:153px;height:1px;background:#3c3c3c"></div>
<div class="p" style="left:1301px;top:91px;width:158px;height:125px"></div>
<div class="abs" style="left:1302px;top:162px;width:156px;height:1px;background:#3c3c3c"></div>
<div class="p" style="left:1471px;top:91px;width:172px;height:125px"></div>
<div class="abs" style="left:1472px;top:161px;width:170px;height:1px;background:#3c3c3c"></div>
<div class="t" style="left:1160.90px;top:97.05px;font-size:14.00px;line-height:14.00px;font-weight:400;color:#fff;letter-spacing:0.078px;">COVID-19-Fälle</div>
<div class="t" style="left:1162.30px;top:117.08px;font-size:24.00px;line-height:24.00px;font-weight:700;color:#1fb4ee;letter-spacing:1.991px;">150.383</div>
<div class="t" style="left:1161.40px;top:146.12px;font-size:12.50px;line-height:12.50px;font-weight:400;color:#1b7c9c;letter-spacing:0.262px;">aus total 150.383</div>
<div class="t" style="left:1162.00px;top:167.24px;font-size:27.00px;line-height:27.00px;font-weight:700;color:#f0a51e;letter-spacing:1.194px;">+ 2.337</div>
<div class="t" style="left:1174.00px;top:199.33px;font-size:14.50px;line-height:14.50px;font-weight:400;color:#fff;letter-spacing:0.173px;">zum Vortag</div>
<div class="t" style="left:1329.00px;top:98.77px;font-size:11.50px;line-height:11.50px;font-weight:400;color:#fff;letter-spacing:-0.381px;">COVID-19-Todesfälle</div>
<div class="t" style="left:1349.50px;top:114.05px;font-size:22.50px;line-height:22.50px;font-weight:700;color:#dcdcdc;letter-spacing:0.649px;">5.321</div>
<div class="t" style="left:1329.40px;top:140.30px;font-size:15.00px;line-height:15.00px;font-weight:400;color:#9a9a9a;letter-spacing:0.085px;">aus total 5.321</div>
<div class="t" style="left:1342.00px;top:166.90px;font-size:28.00px;line-height:28.00px;font-weight:700;color:#8c8c8c;letter-spacing:1.138px;">+ 227</div>
<div class="t" style="left:1342.00px;top:199.33px;font-size:14.50px;line-height:14.50px;font-weight:400;color:#fff;letter-spacing:0.262px;">zum Vortag</div>
<div class="t" style="left:1499.00px;top:97.17px;font-size:13.50px;line-height:13.50px;font-weight:400;color:#fff;letter-spacing:-0.320px;">Covid-19-Genesene</div>
<div class="t" style="left:1500.00px;top:114.66px;font-size:24.50px;line-height:24.50px;font-weight:700;color:#3db31f;letter-spacing:1.562px;">~106.800</div>
<div class="t" style="left:1511.40px;top:143.03px;font-size:14.50px;line-height:14.50px;font-weight:400;color:#338f22;letter-spacing:0.274px;">von ~106.800</div>
<div class="t" style="left:1499.60px;top:167.39px;font-size:26.00px;line-height:26.00px;font-weight:700;color:#3db31f;letter-spacing:1.649px;">+ ~3.500</div>
<div class="t" style="left:1519.30px;top:198.23px;font-size:14.50px;line-height:14.50px;font-weight:400;color:#fff;letter-spacing:0.206px;">zum Vortag</div>
<div class="p" style="left:1655px;top:91px;width:238px;height:125px;border-right:none"></div>
<div class="abs" style="left:1884px;top:92px;width:9px;height:123px;background:#343434"></div>
<div class="abs" style="left:1884px;top:92px;width:9px;height:82px;background:#5c5c5c"></div>
<div class="t tc" style="left:1770.00px;top:103.30px;font-size:15.00px;line-height:15.00px;font-weight:400;color:#fff;letter-spacing:0.100px;">Kombination, Analyse &amp;</div>
<div class="t tc" style="left:1770.00px;top:124.30px;font-size:15.00px;line-height:15.00px;font-weight:400;color:#fff;letter-spacing:0.100px;">Kommunikation relevanter</div>
<div class="t tc" style="left:1770.00px;top:145.30px;font-size:15.00px;line-height:15.00px;font-weight:400;color:#fff;letter-spacing:0.100px;">Daten zum Coronavirus</div>
<div class="t tc" style="left:1770.00px;top:166.30px;font-size:15.00px;line-height:15.00px;font-weight:400;color:#2f7fc4;letter-spacing:0.100px;">Erkunden Sie den NPGEO</div>
<div class="t tc" style="left:1770.00px;top:187.30px;font-size:15.00px;line-height:15.00px;font-weight:400;color:#2f7fc4;letter-spacing:0.100px;">Corona Hub</div>
<div class="p" style="left:1134px;top:229px;width:760px;height:208px"></div>
<div class="t" style="left:1307.30px;top:240.91px;font-size:18.30px;line-height:18.30px;font-weight:700;color:#fff;letter-spacing:-0.614px;">COVID-19-Fälle nach Altersgruppe und Geschlecht</div>
<svg style="left:1134px;top:229px;width:759px;height:208px" viewBox="1134 229 759 208">
<defs><linearGradient id="gf" x1="0" y1="0" x2="0" y2="1"><stop offset="0" stop-color="#085c91"/><stop offset="1" stop-color="#06507f"/></linearGradient><linearGradient id="gm" x1="0" y1="0" x2="0" y2="1"><stop offset="0" stop-color="#0b8dba"/><stop offset="1" stop-color="#0c96c2"/></linearGradient></defs>
<path d="M1226 295.1H1722" stroke="#3e3e3e" stroke-width="1" stroke-dasharray="4 3"/>
<path d="M1218.3 295.1H1226" stroke="#6a6a6a" stroke-width="1"/>
<path d="M1226 327.8H1722" stroke="#3e3e3e" stroke-width="1" stroke-dasharray="4 3"/>
<path d="M1218.3 327.8H1226" stroke="#6a6a6a" stroke-width="1"/>
<path d="M1307.6 295V360" stroke="#3e3e3e" stroke-width="1" stroke-dasharray="4 3"/>
<path d="M1390.3 295V360" stroke="#3e3e3e" stroke-width="1" stroke-dasharray="4 3"/>
<path d="M1474.2 295V360" stroke="#3e3e3e" stroke-width="1" stroke-dasharray="4 3"/>
<path d="M1556.9 295V360" stroke="#3e3e3e" stroke-width="1" stroke-dasharray="4 3"/>
<path d="M1639.6 295V360" stroke="#3e3e3e" stroke-width="1" stroke-dasharray="4 3"/>
<path d="M1722.2 295V360" stroke="#3e3e3e" stroke-width="1" stroke-dasharray="4 3"/>
<path d="M1226 295V360.3" stroke="#6a6a6a" stroke-width="1"/>
<rect x="1232.3" y="358.3" width="33.2" height="2.0" fill="url(#gf)"/>
<rect x="1269.5" y="358.1" width="32.1" height="2.2" fill="url(#gm)"/>
<rect x="1315.6" y="356.9" width="32.1" height="3.4" fill="url(#gf)"/>
<rect x="1351.8" y="356.5" width="32.1" height="3.8" fill="url(#gm)"/>
<rect x="1398.5" y="327.8" width="31.5" height="32.5" fill="url(#gf)"/>
<rect x="1434.5" y="330.6" width="31.7" height="29.7" fill="url(#gm)"/>
<rect x="1481.8" y="305.8" width="31.5" height="54.5" fill="url(#gf)"/>
<rect x="1518.1" y="309.6" width="31.9" height="50.7" fill="url(#gm)"/>
<rect x="1564.9" y="337.0" width="31.0" height="23.3" fill="url(#gf)"/>
<rect x="1600.8" y="334.6" width="31.4" height="25.7" fill="url(#gm)"/>
<rect x="1647.5" y="343.1" width="31.5" height="17.2" fill="url(#gf)"/>
<rect x="1683.4" y="349.5" width="31.4" height="10.8" fill="url(#gm)"/>
<path d="M1218.3 360.3H1722.5" stroke="#8d7f78" stroke-width="1.2"/>
<path d="M1266.5 360.3V366.5" stroke="#8d7f78" stroke-width="1.2"/>
<path d="M1349.2 360.3V366.5" stroke="#8d7f78" stroke-width="1.2"/>
<path d="M1431.7 360.3V366.5" stroke="#8d7f78" stroke-width="1.2"/>
<path d="M1515.0 360.3V366.5" stroke="#8d7f78" stroke-width="1.2"/>
<path d="M1597.7 360.3V366.5" stroke="#8d7f78" stroke-width="1.2"/>
<path d="M1680.4 360.3V366.5" stroke="#8d7f78" stroke-width="1.2"/>
<circle cx="1782.2" cy="348.7" r="9.7" fill="#0a5c91"/><circle cx="1782.2" cy="383.4" r="9.7" fill="#0c96c2"/>
</svg>
<div class="t" style="left:1165.78px;top:289.35px;font-size:14.00px;line-height:14.00px;font-weight:400;color:#fff;letter-spacing:-0.000px;">40.000</div>
<div class="t" style="left:1165.78px;top:322.45px;font-size:14.00px;line-height:14.00px;font-weight:400;color:#fff;letter-spacing:-0.000px;">20.000</div>
<div class="t" style="left:1200.81px;top:353.85px;font-size:14.00px;line-height:14.00px;font-weight:400;color:#fff;letter-spacing:0.000px;">0</div>
<div class="t tc" style="left:1266.20px;top:377.30px;font-size:14.30px;line-height:14.30px;font-weight:400;color:#fff;letter-spacing:0.000px;">0-4</div>
<div class="t tc" style="left:1348.90px;top:377.30px;font-size:14.30px;line-height:14.30px;font-weight:400;color:#fff;letter-spacing:0.000px;">5-14</div>
<div class="t tc" style="left:1431.60px;top:377.30px;font-size:14.30px;line-height:14.30px;font-weight:400;color:#fff;letter-spacing:0.000px;">15-34</div>
<div class="t tc" style="left:1515.00px;top:377.30px;font-size:14.30px;line-height:14.30px;font-weight:400;color:#fff;letter-spacing:0.000px;">35-59</div>
<div class="t tc" style="left:1597.70px;top:377.30px;font-size:14.30px;line-height:14.30px;font-weight:400;color:#fff;letter-spacing:0.000px;">60-79</div>
<div class="t tc" style="left:1679.60px;top:377.30px;font-size:14.30px;line-height:14.30px;font-weight:400;color:#fff;letter-spacing:0.000px;">80+</div>
<div class="t tc" style="left:1473.40px;top:407.95px;font-size:15.30px;line-height:15.30px;font-weight:700;color:#fff;letter-spacing:-0.200px;">Altersgruppe</div>
<div class="t" style="left:1797.90px;top:342.73px;font-size:14.50px;line-height:14.50px;font-weight:400;color:#fff;letter-spacing:-0.133px;">Weiblich</div>
<div class="t" style="left:1797.90px;top:377.73px;font-size:14.50px;line-height:14.50px;font-weight:400;color:#fff;letter-spacing:-0.190px;">Männlich</div>
<div class="abs" style="left:1150px;top:437px;width:161px;height:34px;background:#222;border-bottom:3px solid #2b83de"></div>
<div class="abs" style="left:1317px;top:437px;width:302px;height:34px;background:#000;border:1px solid #3a3a3a;border-bottom:3px solid #3a3a3a"></div>
<div class="t" style="left:1165.90px;top:444.85px;font-size:15.30px;line-height:15.30px;font-weight:400;color:#fff;letter-spacing:0.328px;">Fälle Altersgruppe</div>
<div class="t" style="left:1332.90px;top:444.85px;font-size:15.30px;line-height:15.30px;font-weight:400;color:#fff;letter-spacing:0.317px;">Fälle Altersgruppe/100.000 Einwohner</div>
<div class="p" style="left:1134px;top:486px;width:760px;height:353px"></div>
<div class="abs" style="left:1147px;top:838px;width:733px;height:36px;background:#222"></div>
<div class="t" style="left:1218.50px;top:498.78px;font-size:16.80px;line-height:16.80px;font-weight:700;color:#fff;letter-spacing:0.245px;">COVID-19-Fälle/Tag nach <span style="text-decoration:underline;text-decoration-thickness:1.5px;text-underline-offset:2px">Erkrankungsbeginn</span>, ersatzweise Meldedatum*</div>
<div class="t" style="left:1374.90px;top:526.73px;font-size:15.20px;line-height:15.20px;font-weight:700;color:#d2d2d2;letter-spacing:-0.339px;">(Übermittlungsverzug, siehe Disclaimer)</div>
<svg style="left:1134px;top:486px;width:759px;height:353px" viewBox="1134 486 759 353">
<path d="M1217 577.7H1853" stroke="#3e3e3e" stroke-width="1" stroke-dasharray="4 3"/>
<path d="M1210 577.7H1217" stroke="#5a5a5a" stroke-width="1"/>
<path d="M1217 597.7H1853" stroke="#3e3e3e" stroke-width="1" stroke-dasharray="4 3"/>
<path d="M1210 597.7H1217" stroke="#5a5a5a" stroke-width="1"/>
<path d="M1217 618.8H1853" stroke="#3e3e3e" stroke-width="1" stroke-dasharray="4 3"/>
<path d="M1210 618.8H1217" stroke="#5a5a5a" stroke-width="1"/>
<path d="M1576.9 583V645.3" stroke="#4a4a4a" stroke-width="1"/>
<rect x="1217.25" y="635.69" width="11.32" height="3.61" fill="#f5b941"/>
<rect x="1217.25" y="636.89" width="11.32" height="2.41" fill="#0a50b9"/>
<rect x="1229.27" y="635.69" width="11.32" height="3.61" fill="#f5b941"/>
<rect x="1229.27" y="636.89" width="11.32" height="2.41" fill="#0a50b9"/>
<rect x="1241.29" y="634.28" width="11.32" height="5.02" fill="#f5b941"/>
<rect x="1241.29" y="635.89" width="11.32" height="3.41" fill="#0a50b9"/>
<rect x="1253.31" y="634.28" width="11.32" height="5.02" fill="#f5b941"/>
<rect x="1253.31" y="635.89" width="11.32" height="3.41" fill="#0a50b9"/>
<rect x="1265.33" y="630.67" width="11.32" height="8.63" fill="#f5b941"/>
<rect x="1265.33" y="633.28" width="11.32" height="6.02" fill="#0a50b9"/>
<rect x="1277.35" y="630.67" width="11.32" height="8.63" fill="#f5b941"/>
<rect x="1277.35" y="631.87" width="11.32" height="7.43" fill="#0a50b9"/>
<rect x="1289.37" y="628.26" width="11.32" height="11.04" fill="#f5b941"/>
<rect x="1289.37" y="629.87" width="11.32" height="9.43" fill="#0a50b9"/>
<rect x="1301.39" y="622.24" width="11.32" height="17.06" fill="#f5b941"/>
<rect x="1301.39" y="624.65" width="11.32" height="14.65" fill="#0a50b9"/>
<rect x="1313.41" y="618.22" width="11.32" height="21.08" fill="#f5b941"/>
<rect x="1313.41" y="620.83" width="11.32" height="18.47" fill="#0a50b9"/>
<rect x="1325.43" y="612.20" width="11.32" height="27.10" fill="#f5b941"/>
<rect x="1325.43" y="615.82" width="11.32" height="23.48" fill="#0a50b9"/>
<rect x="1337.45" y="609.19" width="11.32" height="30.11" fill="#f5b941"/>
<rect x="1337.45" y="613.21" width="11.32" height="26.09" fill="#0a50b9"/>
<rect x="1349.47" y="602.17" width="11.32" height="37.13" fill="#f5b941"/>
<rect x="1349.47" y="607.79" width="11.32" height="31.51" fill="#0a50b9"/>
<rect x="1361.49" y="601.16" width="11.32" height="38.14" fill="#f5b941"/>
<rect x="1361.49" y="607.18" width="11.32" height="32.12" fill="#0a50b9"/>
<rect x="1373.51" y="601.16" width="11.32" height="38.14" fill="#f5b941"/>
<rect x="1373.51" y="605.78" width="11.32" height="33.52" fill="#0a50b9"/>
<rect x="1385.53" y="587.11" width="11.32" height="52.19" fill="#f5b941"/>
<rect x="1385.53" y="594.54" width="11.32" height="44.76" fill="#0a50b9"/>
<rect x="1397.55" y="589.52" width="11.32" height="49.78" fill="#f5b941"/>
<rect x="1397.55" y="602.17" width="11.32" height="37.13" fill="#0a50b9"/>
<rect x="1409.57" y="587.11" width="11.32" height="52.19" fill="#f5b941"/>
<rect x="1409.57" y="601.16" width="11.32" height="38.14" fill="#0a50b9"/>
<rect x="1421.59" y="593.13" width="11.32" height="46.17" fill="#f5b941"/>
<rect x="1421.59" y="607.18" width="11.32" height="32.12" fill="#0a50b9"/>
<rect x="1433.61" y="585.71" width="11.32" height="53.59" fill="#f5b941"/>
<rect x="1433.61" y="601.16" width="11.32" height="38.14" fill="#0a50b9"/>
<rect x="1445.63" y="597.15" width="11.32" height="42.15" fill="#f5b941"/>
<rect x="1445.63" y="608.19" width="11.32" height="31.11" fill="#0a50b9"/>
<rect x="1457.65" y="605.78" width="11.32" height="33.52" fill="#f5b941"/>
<rect x="1457.65" y="613.21" width="11.32" height="26.09" fill="#0a50b9"/>
<rect x="1469.67" y="591.13" width="11.32" height="48.17" fill="#f5b941"/>
<rect x="1469.67" y="602.17" width="11.32" height="37.13" fill="#0a50b9"/>
<rect x="1481.69" y="597.15" width="11.32" height="42.15" fill="#f5b941"/>
<rect x="1481.69" y="612.20" width="11.32" height="27.10" fill="#0a50b9"/>
<rect x="1493.71" y="592.13" width="11.32" height="47.17" fill="#f5b941"/>
<rect x="1493.71" y="609.79" width="11.32" height="29.51" fill="#0a50b9"/>
<rect x="1505.73" y="596.14" width="11.32" height="43.16" fill="#f5b941"/>
<rect x="1505.73" y="613.21" width="11.32" height="26.09" fill="#0a50b9"/>
<rect x="1517.75" y="590.73" width="11.32" height="48.57" fill="#f5b941"/>
<rect x="1517.75" y="612.20" width="11.32" height="27.10" fill="#0a50b9"/>
<rect x="1529.77" y="598.15" width="11.32" height="41.15" fill="#f5b941"/>
<rect x="1529.77" y="614.61" width="11.32" height="24.69" fill="#0a50b9"/>
<rect x="1541.79" y="607.18" width="11.32" height="32.12" fill="#f5b941"/>
<rect x="1541.79" y="618.22" width="11.32" height="21.08" fill="#0a50b9"/>
<rect x="1553.81" y="596.14" width="11.32" height="43.16" fill="#f5b941"/>
<rect x="1553.81" y="611.20" width="11.32" height="28.10" fill="#0a50b9"/>
<rect x="1565.83" y="597.15" width="11.32" height="42.15" fill="#f5b941"/>
<rect x="1565.83" y="618.22" width="11.32" height="21.08" fill="#0a50b9"/>
<rect x="1577.85" y="592.13" width="11.32" height="47.17" fill="#f5b941"/>
<rect x="1577.85" y="614.61" width="11.32" height="24.69" fill="#0a50b9"/>
<rect x="1589.87" y="592.13" width="11.32" height="47.17" fill="#f5b941"/>
<rect x="1589.87" y="617.22" width="11.32" height="22.08" fill="#0a50b9"/>
<rect x="1601.89" y="589.52" width="11.32" height="49.78" fill="#f5b941"/>
<rect x="1601.89" y="617.22" width="11.32" height="22.08" fill="#0a50b9"/>
<rect x="1613.91" y="606.18" width="11.32" height="33.12" fill="#f5b941"/>
<rect x="1613.91" y="622.24" width="11.32" height="17.06" fill="#0a50b9"/>
<rect x="1625.93" y="612.20" width="11.32" height="27.10" fill="#f5b941"/>
<rect x="1625.93" y="623.24" width="11.32" height="16.06" fill="#0a50b9"/>
<rect x="1637.95" y="603.17" width="11.32" height="36.13" fill="#f5b941"/>
<rect x="1637.95" y="619.83" width="11.32" height="19.47" fill="#0a50b9"/>
<rect x="1649.97" y="602.17" width="11.32" height="37.13" fill="#f5b941"/>
<rect x="1649.97" y="622.24" width="11.32" height="17.06" fill="#0a50b9"/>
<rect x="1661.99" y="601.16" width="11.32" height="38.14" fill="#f5b941"/>
<rect x="1661.99" y="623.64" width="11.32" height="15.66" fill="#0a50b9"/>
<rect x="1674.01" y="603.17" width="11.32" height="36.13" fill="#f5b941"/>
<rect x="1674.01" y="624.85" width="11.32" height="14.45" fill="#0a50b9"/>
<rect x="1686.03" y="612.20" width="11.32" height="27.10" fill="#f5b941"/>
<rect x="1686.03" y="627.26" width="11.32" height="12.04" fill="#0a50b9"/>
<rect x="1698.05" y="614.61" width="11.32" height="24.69" fill="#f5b941"/>
<rect x="1698.05" y="629.87" width="11.32" height="9.43" fill="#0a50b9"/>
<rect x="1710.07" y="621.23" width="11.32" height="18.07" fill="#f5b941"/>
<rect x="1710.07" y="629.87" width="11.32" height="9.43" fill="#0a50b9"/>
<rect x="1722.09" y="621.23" width="11.32" height="18.07" fill="#f5b941"/>
<rect x="1722.09" y="629.87" width="11.32" height="9.43" fill="#0a50b9"/>
<rect x="1734.11" y="618.22" width="11.32" height="21.08" fill="#f5b941"/>
<rect x="1734.11" y="629.87" width="11.32" height="9.43" fill="#0a50b9"/>
<rect x="1746.13" y="616.22" width="11.32" height="23.08" fill="#f5b941"/>
<rect x="1746.13" y="630.87" width="11.32" height="8.43" fill="#0a50b9"/>
<rect x="1758.15" y="617.22" width="11.32" height="22.08" fill="#f5b941"/>
<rect x="1758.15" y="632.27" width="11.32" height="7.03" fill="#0a50b9"/>
<rect x="1770.17" y="617.22" width="11.32" height="22.08" fill="#f5b941"/>
<rect x="1770.17" y="633.68" width="11.32" height="5.62" fill="#0a50b9"/>
<rect x="1782.19" y="624.65" width="11.32" height="14.65" fill="#f5b941"/>
<rect x="1782.19" y="634.88" width="11.32" height="4.42" fill="#0a50b9"/>
<rect x="1794.21" y="628.26" width="11.32" height="11.04" fill="#f5b941"/>
<rect x="1794.21" y="637.29" width="11.32" height="2.01" fill="#0a50b9"/>
<rect x="1806.23" y="626.25" width="11.32" height="13.05" fill="#f5b941"/>
<rect x="1806.23" y="636.29" width="11.32" height="3.01" fill="#0a50b9"/>
<rect x="1818.25" y="627.26" width="11.32" height="12.04" fill="#f5b941"/>
<rect x="1818.25" y="638.70" width="11.32" height="0.60" fill="#0a50b9"/>
<rect x="1830.27" y="624.65" width="11.32" height="14.65" fill="#f5b941"/>
<rect x="1842.29" y="633.28" width="11.32" height="6.02" fill="#f5b941"/>
<path d="M1217 577.7V639.3" stroke="#5a5a5a" stroke-width="1"/>
<path d="M1210 639.3H1853.5" stroke="#5a6a80" stroke-width="1"/>
<circle cx="1395.3" cy="710.9" r="10" fill="#0a50b9"/><circle cx="1556.6" cy="710.9" r="10" fill="#f5b941"/>
<path d="M1169.6 848.8V864.6L1161.6 856.7Z" fill="none" stroke="#fff" stroke-width="1.4" transform="translate(0 0)"/>
<path d="M1857.6 848.8V864.6L1865.6 856.7Z" fill="none" stroke="#fff" stroke-width="1.4"/>
</svg>
<div class="t" style="left:1164.77px;top:571.65px;font-size:14.00px;line-height:14.00px;font-weight:400;color:#fff;letter-spacing:0.000px;">6.000</div>
<div class="t" style="left:1164.77px;top:591.25px;font-size:14.00px;line-height:14.00px;font-weight:400;color:#fff;letter-spacing:0.000px;">4.000</div>
<div class="t" style="left:1164.77px;top:612.95px;font-size:14.00px;line-height:14.00px;font-weight:400;color:#fff;letter-spacing:0.000px;">2.000</div>
<div class="t" style="left:1192.01px;top:633.45px;font-size:14.00px;line-height:14.00px;font-weight:400;color:#fff;letter-spacing:0.000px;">0</div>
<div class="t" style="left:1377.90px;top:648.55px;font-size:14.00px;line-height:14.00px;font-weight:400;color:#fff;letter-spacing:-0.005px;">Mär</div>
<div class="t" style="left:1750.90px;top:648.55px;font-size:14.00px;line-height:14.00px;font-weight:400;color:#fff;letter-spacing:0.957px;">Apr</div>
<div class="t" style="left:1411.00px;top:705.23px;font-size:14.50px;line-height:14.50px;font-weight:400;color:#fff;letter-spacing:-0.307px;">Erkrankungsdatum</div>
<div class="t" style="left:1571.90px;top:705.23px;font-size:14.50px;line-height:14.50px;font-weight:400;color:#fff;letter-spacing:0.034px;">Meldedatum</div>
<div class="t" style="left:1141.40px;top:762.19px;font-size:12.30px;line-height:12.30px;font-weight:400;color:#cfcfcf;letter-spacing:0.047px;">* Bei Fällen ohne Angaben zum Erkrankungsbeginn (Erkrankungsbeginn unbekannt bzw. Fälle ohne Symptome) wird ersatzweise das</div>
<div class="t" style="left:1141.40px;top:788.59px;font-size:12.30px;line-height:12.30px;font-weight:400;color:#cfcfcf;letter-spacing:0.162px;">Meldedatum verwendet. Die abnehmende Fallzahl über die letzten Tage kann durch den Melde- und Übermittlungsverzug bedingt</div>
<div class="t" style="left:1141.40px;top:814.19px;font-size:12.30px;line-height:12.30px;font-weight:400;color:#cfcfcf;letter-spacing:-0.095px;">sein.</div>
<div class="t" style="left:1435.30px;top:845.88px;font-size:15.50px;line-height:15.50px;font-weight:400;color:#fff;letter-spacing:0.005px;">Fälle/Tag (Erkrankung)</div>
</body></html>
